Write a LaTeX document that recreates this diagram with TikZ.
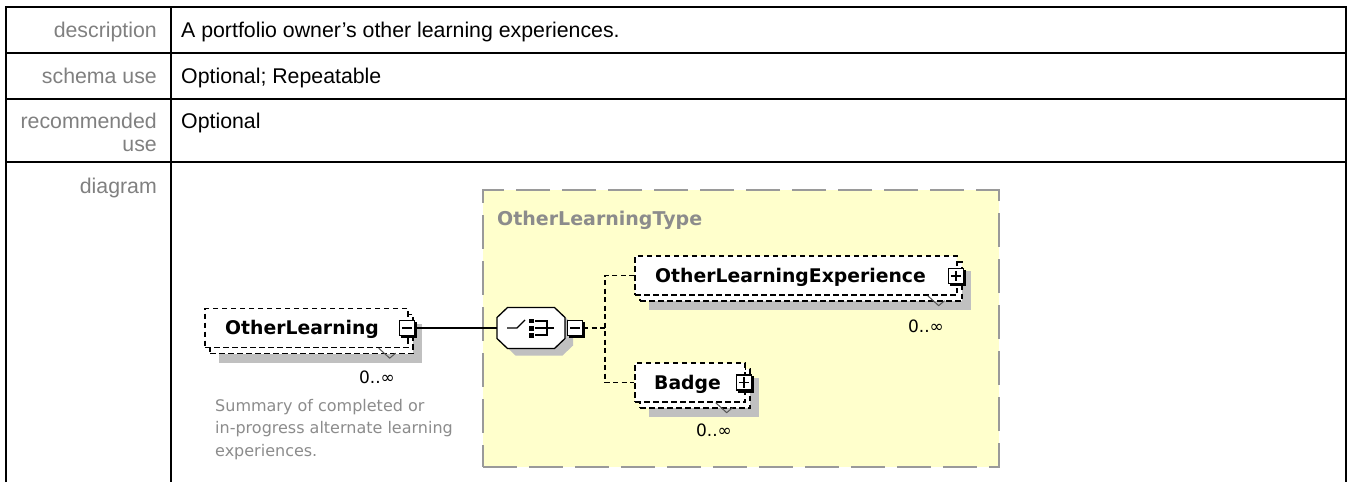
\documentclass[tikz,border=0pt]{standalone}
\usepackage{fontspec}
\setmainfont{Liberation Sans}
\newfontfamily\dvs{DejaVu Sans}
\usetikzlibrary{calc}
\definecolor{lblgray}{HTML}{808080}
\definecolor{ygfill}{HTML}{FFFFCC}
\definecolor{ygborder}{HTML}{9A9A9A}
\definecolor{shadowgray}{HTML}{C0C0C0}
\definecolor{typegray}{HTML}{8C8C8C}
\definecolor{anngray}{HTML}{8C8C8C}
\definecolor{ticcol}{HTML}{555555}
\tikzset{
 tbl/.style={line width=1.5pt},
 lbl/.style={font=\fontsize{21.3}{25}\selectfont, text=lblgray, anchor=base east, inner sep=0pt},
 val/.style={font=\fontsize{21.3}{25}\selectfont, anchor=base west, inner sep=0pt},
 ctypebox/.style={draw=ygborder, fill=ygfill, line width=2pt, dash pattern=on 34pt off 12pt, inner sep=0pt},
 ctypelbl/.style={font=\dvs\bfseries\fontsize{19}{22}\selectfont, text=typegray, anchor=base west, inner sep=0pt},
 elbox/.style={draw, fill=white, line width=1.3pt, dash pattern=on 5.5pt off 3.5pt, minimum height=39pt, inner sep=0pt},
 elshadow/.style={fill=shadowgray, minimum height=39pt, inner sep=0pt},
 elname/.style={font=\dvs\bfseries\fontsize{18.8}{22}\selectfont, anchor=base west, inner sep=0pt},
 occ/.style={font=\dvs\fontsize{17}{20}\selectfont, inner sep=0pt},
 xbox/.style={draw, fill=white, line width=1.2pt, minimum width=15pt, minimum height=15pt, inner sep=0pt},
 xshadow/.style={fill=black, minimum width=16.2pt, minimum height=16.2pt, inner sep=0pt},
 xsign/.style={line width=1.3pt},
 conn/.style={line width=1.4pt},
 dconn/.style={line width=1.4pt, dash pattern=on 5pt off 3.5pt},
 tickmark/.style={draw=ticcol, line width=1pt},
 ann/.style={font=\dvs\fontsize{16}{22.5}\selectfont, text=anngray, align=left, anchor=north west, inner sep=0pt},
}
\begin{document}
\begin{tikzpicture}[x=1pt,y=-1pt]
\useasboundingbox[fill=white] (0,0) rectangle (1348,482);
% table
\draw[tbl] (6,482) -- (6,7) -- (1346,7) -- (1346,482);
\draw[tbl] (6,53) -- (1346,53);
\draw[tbl] (6,99) -- (1346,99);
\draw[tbl] (6,162) -- (1346,162);
\draw[tbl] (171,7) -- (171,482);
\node[lbl] (l1) at (157,37) {description};
\node[val] (v1) at (181,37) {A portfolio owner’s other learning experiences.};
\node[lbl] (l2) at (157,83) {schema use};
\node[val] (v2) at (181,83) {Optional; Repeatable};
\node[lbl] (l3a) at (157,128) {recommended};
\node[lbl] (l3b) at (157,151) {use};
\node[val] (v3) at (181,128) {Optional};
\node[lbl] (l4) at (157,193) {diagram};
% complex type box
\node[ctypebox, minimum width=516pt, minimum height=277pt] (ctype) at (741,328.5) {};
\node[ctypelbl] (ctypename) at (497,225) {OtherLearningType};
% OtherLearning
\node[elshadow, minimum width=203pt] (olsh) at (320.5,343) {};
\node[elbox, minimum width=203pt] (olback) at (311.5,334) {};
\node[elbox, minimum width=203pt] (ol) at (306.5,328) {};
\node[elname] (olname) at (225,334.5) {OtherLearning};
\draw[tickmark] ([xshift=-30pt]ol.south east) -- ++(11,10) -- ++(6,-5);
\node[xshadow] (olxs) at (409,330) {};
\node[xbox] (olx) at (407,328) {};
\draw[xsign] ([xshift=3pt]olx.west) -- ([xshift=-3pt]olx.east);
\node[occ] (olocc) at (377,377) {0..∞};
\node[ann] (olann) at (215,399) {Summary of completed or\\in-progress alternate learning\\experiences.};
% sequence compositor
\node[inner sep=0pt, minimum width=68pt, minimum height=41pt] (seq) at (531,328) {};
\fill[shadowgray, shift={($(seq.center)+(8,7)$)}] (-34,-10.5) -- (-23.5,-20.5) -- (23.5,-20.5) -- (34,-10.5) -- (34,10.5) -- (23.5,20.5) -- (-23.5,20.5) -- (-34,10.5) -- cycle;
\draw[fill=white, line width=1.3pt, shift={(seq.center)}] (-34,-10.5) -- (-23.5,-20.5) -- (23.5,-20.5) -- (34,-10.5) -- (34,10.5) -- (23.5,20.5) -- (-23.5,20.5) -- (-34,10.5) -- cycle;
\begin{scope}[shift={(seq.center)}]
 \draw[line width=1.3pt] (-24,0) -- (-14,0) -- (-6,-8);
 \fill (-2,-9.5) rectangle (3,-5);
 \fill (-2,-2.5) rectangle (3,2.5);
 \fill (-2,5) rectangle (3,9.5);
 \draw[line width=1.2pt] (4,-7) -- (16,-7) -- (16,7) -- (4,7);
 \draw[line width=1.2pt] (4,0) -- (23,0);
\end{scope}
\node[xshadow] (seqxs) at (577,330) {};
\node[xbox] (seqx) at (575,328) {};
\draw[xsign] ([xshift=3pt]seqx.west) -- ([xshift=-3pt]seqx.east);
\draw[conn] (olx.east) -- (seq.west);
% OtherLearningExperience
\node[elshadow, minimum width=322pt] (olesh) at (810,290.5) {};
\node[elbox, minimum width=322pt] (oleback) at (801,281.5) {};
\node[elbox, minimum width=322pt] (ole) at (796,275.5) {};
\node[elname] (olename) at (655,282) {OtherLearningExperience};
\draw[tickmark] ([xshift=-30pt]ole.south east) -- ++(11,10) -- ++(6,-5);
\node[xshadow] (olexs) at (958,278) {};
\node[xbox] (olex) at (956,276) {};
\draw[xsign] ([xshift=3pt]olex.west) -- ([xshift=-3pt]olex.east);
\draw[xsign] ([yshift=-3pt]olex.north) -- ([yshift=3pt]olex.south);
\node[occ] (oleocc) at (926,326) {0..∞};
% Badge
\node[elshadow, minimum width=110pt] (bsh) at (704,397.5) {};
\node[elbox, minimum width=110pt] (bback) at (695,388.5) {};
\node[elbox, minimum width=110pt] (badge) at (690,382.5) {};
\node[elname] (bname) at (654,389) {Badge};
\draw[tickmark] ([xshift=-30pt]badge.south east) -- ++(11,10) -- ++(6,-5);
\node[xshadow] (bxs) at (746,384.5) {};
\node[xbox] (bx) at (744,382.5) {};
\draw[xsign] ([xshift=3pt]bx.west) -- ([xshift=-3pt]bx.east);
\draw[xsign] ([yshift=-3pt]bx.north) -- ([yshift=3pt]bx.south);
\node[occ] (bocc) at (714,430) {0..∞};
% dashed connectors
\coordinate (j) at (605,328);
\draw[dconn] (seqx.east) -- (j);
\draw[dconn] (ole.west) -| (j) |- (badge.west);
\end{tikzpicture}
\end{document}
